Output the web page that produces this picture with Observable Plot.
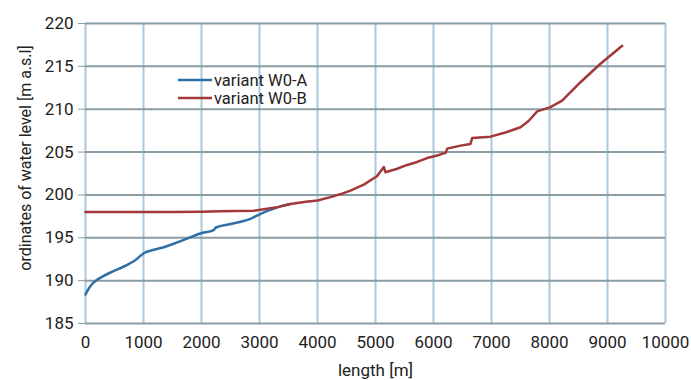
<!DOCTYPE html>
<html>
<head>
<meta charset="utf-8">
<script src="https://cdn.jsdelivr.net/npm/d3@7"></script>
<script src="https://cdn.jsdelivr.net/npm/@observablehq/plot@0.6"></script>
<style>
  html, body { margin: 0; padding: 0; background: #fff; }
  #chart { width: 691px; height: 380px; }
  svg { font-family: Roboto, "Liberation Sans", sans-serif; }
</style>
</head>
<body>
<div id="chart"></div>
<script>
// Series names
const seriesNames = ["variant W0-A", "variant W0-B"];
const seriesColors = ["#2f6fa6", "#a3383b"];

// variant W0-A: length [m] and water level [m a.s.l.]
const lengthA = [0, 40, 100, 200, 300, 430, 580, 720, 850, 1005, 1180, 1350, 1520, 1750, 1980, 2210, 2250, 2500, 2840, 3020, 3250, 3400, 3534];
const levelA  = [188.4, 188.9, 189.5, 190.1, 190.5, 190.95, 191.4, 191.85, 192.35, 193.2, 193.6, 193.9, 194.3, 194.9, 195.5, 195.9, 196.2, 196.6, 197.2, 197.8, 198.4, 198.75, 198.95];

// variant W0-B
const lengthB = [0, 500, 1000, 1500, 2000, 2300, 2900, 3100, 3300, 3534, 3800, 4000, 4224, 4400, 4569, 4799, 5029, 5115, 5144, 5172, 5374, 5546, 5718, 5890, 6063, 6207, 6236, 6466, 6638, 6667, 6983, 7270, 7500, 7644, 7788, 8017, 8218, 8534, 8879, 9253];
const levelB  = [198.0, 198.0, 198.0, 198.0, 198.05, 198.1, 198.15, 198.35, 198.55, 198.95, 199.2, 199.35, 199.74, 200.1, 200.5, 201.2, 202.2, 203.0, 203.25, 202.65, 203.05, 203.5, 203.85, 204.3, 204.6, 204.9, 205.4, 205.75, 205.95, 206.65, 206.8, 207.35, 207.9, 208.65, 209.75, 210.25, 211.0, 213.15, 215.3, 217.4];

// Axis ticks and titles
const xTicks = [0, 1000, 2000, 3000, 4000, 5000, 6000, 7000, 8000, 9000, 10000];
const yTicks = [185, 190, 195, 200, 205, 210, 215, 220];
const xTitle = "length [m]";
const yTitle = "ordinates of water level [m a.s.l]";

const dataA = lengthA.map((x, i) => ({x, y: levelA[i]}));
const dataB = lengthB.map((x, i) => ({x, y: levelB[i]}));

const plot = Plot.plot({
  width: 691,
  height: 380,
  marginLeft: 85,
  marginRight: 26,
  marginTop: 23,
  marginBottom: 57,
  style: {fontSize: "17px", color: "#222", background: "#fff"},
  x: {domain: [0, 10000], ticks: xTicks, label: null},
  y: {domain: [185, 220], ticks: yTicks, label: null},
  marks: [
    Plot.ruleX(xTicks, {stroke: "#a9c9de", strokeWidth: 2}),
    Plot.ruleY(yTicks, {stroke: "#8a9ca6", strokeWidth: 2}),
    Plot.axisY({ticks: yTicks, tickFormat: "d", tickSize: 7, tickPadding: 5, stroke: "#8a9ca6", fontSize: 17, label: null}),
    Plot.axisX({ticks: xTicks, tickFormat: "d", tickSize: 0, tickPadding: 12, fontSize: 17,
      label: xTitle, labelAnchor: "center", labelArrow: "none", labelOffset: 52}),
    Plot.line(dataA, {x: "x", y: "y", stroke: seriesColors[0], strokeWidth: 2.5, curve: "monotone-x"}),
    Plot.line(dataB, {x: "x", y: "y", stroke: seriesColors[1], strokeWidth: 2.5, curve: "linear"})
  ]
});

document.getElementById("chart").appendChild(plot);

const svg = d3.select(plot);
// y-axis title (placed as in the reference, slightly above centre)
svg.append("text")
  .attr("transform", "translate(25,158) rotate(-90)")
  .attr("text-anchor", "middle").attr("dy", "0.35em")
  .attr("font-size", 16).attr("fill", "#222").text(yTitle);

// Legend inside plot area
const lg = svg.append("g").attr("class", "legend").attr("text-anchor", "start");
seriesNames.forEach((name, i) => {
  const y = 80 + i * 18;
  lg.append("line").attr("x1", 178).attr("x2", 212).attr("y1", y).attr("y2", y)
    .attr("stroke", seriesColors[i]).attr("stroke-width", 2.5);
  lg.append("text").attr("x", 214).attr("y", y).attr("dy", "0.35em")
    .attr("text-anchor", "start").attr("font-size", 16.5).attr("fill", "#222").text(name);
});
</script>
</body>
</html>
